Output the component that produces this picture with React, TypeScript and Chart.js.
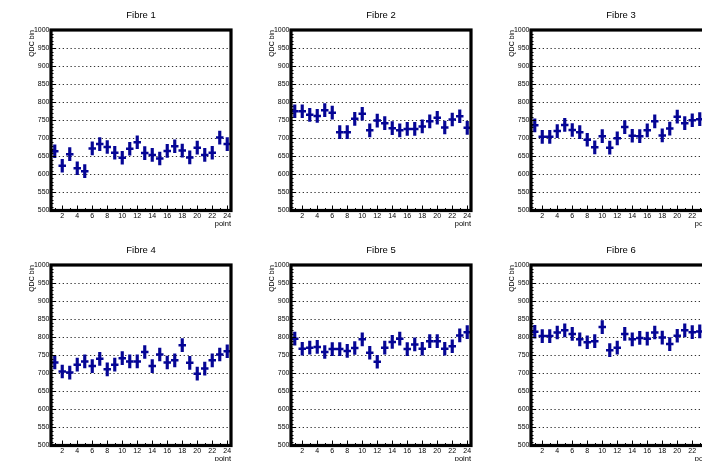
import React, { useEffect, useRef } from "react";
import { Chart, registerables } from "chart.js";

Chart.register(...registerables);

// ---------- data ----------
const points = [1, 2, 3, 4, 5, 6, 7, 8, 9, 10, 11, 12, 13, 14, 15, 16, 17, 18, 19, 20, 21, 22, 23, 24];
const xTickLabels = [2, 4, 6, 8, 10, 12, 14, 16, 18, 20, 22, 24];
const titles = ["Fibre 1", "Fibre 2", "Fibre 3", "Fibre 4", "Fibre 5", "Fibre 6"];

const fibre1 = [664, 624, 656, 617, 609, 672, 684, 676, 660, 646, 671, 689, 659, 654, 644, 665, 678, 666, 647, 674, 654, 660, 702, 684];
const fibre2 = [775, 775, 765, 762, 778, 771, 717, 717, 754, 768, 722, 749, 742, 728, 722, 726, 726, 733, 747, 757, 730, 752, 761, 729];
const fibre3 = [736, 704, 704, 720, 737, 723, 717, 696, 675, 706, 674, 700, 731, 707, 706, 722, 747, 708, 727, 760, 742, 750, 753, 752];
const fibre4 = [730, 705, 702, 724, 733, 720, 740, 711, 724, 742, 733, 733, 759, 720, 752, 730, 736, 778, 729, 699, 713, 736, 752, 761];
const fibre5 = [796, 768, 771, 773, 759, 767, 767, 762, 770, 794, 757, 732, 771, 787, 796, 767, 780, 768, 789, 789, 768, 775, 805, 814];
const fibre6 = [815, 803, 803, 813, 819, 809, 794, 786, 789, 828, 764, 771, 809, 794, 798, 796, 813, 799, 781, 804, 819, 814, 816, 815];
const series = [fibre1, fibre2, fibre3, fibre4, fibre5, fibre6];

const yError = 18; // half-height of vertical error bar (QDC bins)
const xHalfWidth = 0.5; // half-width of horizontal error bar (points)

const yMin = 500;
const yMax = 1000;
const yStep = 50;
const yMinorStep = 10;
const xMin = 0.5;
const xMax = 24.5;

// ---------- style ----------
const PAD_W = 240;
const PAD_H = 235;
const BLUE = "#050595";
const FONT = "'Liberation Sans', Arial, Helvetica, sans-serif";

Chart.defaults.font.family = FONT;

const framePlugin = {
  id: "rootFrame",
  afterDraw(chart: any) {
    const { ctx, chartArea: a, scales } = chart;
    const x = scales.x;
    const y = scales.y;
    ctx.save();
    ctx.strokeStyle = "#000";
    ctx.lineWidth = 1;
    ctx.beginPath();
    for (let v = yMin; v <= yMax; v += yMinorStep) {
      const py = Math.round(y.getPixelForValue(v)) + 0.5;
      const len = v % yStep === 0 ? 5 : 2.5;
      ctx.moveTo(a.left, py);
      ctx.lineTo(a.left + len, py);
    }
    for (const p of points) {
      const px = Math.round(x.getPixelForValue(p)) + 0.5;
      const len = p % 2 === 0 ? 5 : 2.5;
      ctx.moveTo(px, a.bottom);
      ctx.lineTo(px, a.bottom - len);
    }
    ctx.stroke();
    ctx.lineWidth = 3.2;
    ctx.strokeRect(a.left, a.top, a.right - a.left, a.bottom - a.top);
    ctx.restore();
  },
};

function Panel({ title, values, left, top }: { title: string; values: number[]; left: number; top: number }) {
  const ref = useRef<HTMLCanvasElement>(null);
  useEffect(() => {
    const pxPerUnit = (PAD_W - 51 - 9) / (xMax - xMin);
    const chart = new Chart(ref.current as HTMLCanvasElement, {
      type: "scatter",
      data: {
        datasets: [
          {
            type: "bar",
            data: values.map((v, i) => ({ x: points[i], y: [v - yError, v + yError] })),
            backgroundColor: BLUE,
            borderWidth: 0,
            barThickness: 2.5,
          } as any,
          {
            type: "scatter",
            data: values.map((v, i) => ({ x: points[i], y: v })),
            showLine: false,
            pointStyle: "line",
            pointRadius: xHalfWidth * pxPerUnit,
            pointHoverRadius: xHalfWidth * pxPerUnit,
            pointBorderColor: BLUE,
            pointBackgroundColor: BLUE,
            pointBorderWidth: 2.5,
          } as any,
        ],
      },
      options: {
        responsive: false,
        animation: false,
        devicePixelRatio: 1,
        layout: { padding: { left: 0, right: 9, top: 0, bottom: 0 } },
        plugins: {
          legend: { display: false },
          tooltip: { enabled: false },
          title: {
            display: true,
            text: title,
            fullSize: false,
            color: "#000",
            font: { family: FONT, size: 9.5, weight: "normal" },
            padding: { top: 9.3, bottom: 9.3 },
          },
        },
        scales: {
          x: {
            type: "linear",
            min: xMin,
            max: xMax,
            offset: false,
            afterBuildTicks: (s: any) => {
              s.ticks = xTickLabels.map((v) => ({ value: v }));
            },
            afterFit: (s: any) => {
              s.height = 24.5;
            },
            ticks: {
              autoSkip: false,
              maxRotation: 0,
              padding: 1,
              color: "#000",
              font: { family: FONT, size: 7 },
              callback: (v: any) => String(v),
            },
            grid: { display: false, drawTicks: false, offset: false },
            border: { display: false },
            title: {
              display: true,
              text: "point",
              align: "end",
              color: "#000",
              font: { family: FONT, size: 7.5 },
              padding: { top: 0, bottom: 6.5 },
            },
          },
          y: {
            type: "linear",
            min: yMin,
            max: yMax,
            afterFit: (s: any) => {
              s.width = 51;
            },
            ticks: {
              stepSize: yStep,
              padding: 1.5,
              color: "#000",
              font: { family: FONT, size: 7 },
              callback: (v: any) => String(v),
            },
            grid: { color: "#333", lineWidth: 1, drawTicks: false },
            border: { display: false, dash: [1.3, 2.6] },
            title: {
              display: true,
              text: "QDC bin",
              align: "end",
              color: "#000",
              font: { family: FONT, size: 7 },
              padding: { top: 27.8, bottom: 0 },
            },
          },
        },
      } as any,
      plugins: [framePlugin],
    });
    return () => chart.destroy();
  }, [title, values]);
  return (
    <canvas
      ref={ref}
      width={PAD_W}
      height={PAD_H}
      style={{ position: "absolute", left, top, width: PAD_W, height: PAD_H, display: "block" }}
    />
  );
}

export default function App() {
  return (
    <div
      style={{
        position: "fixed",
        left: 0,
        top: 0,
        width: 702,
        height: 461,
        overflow: "hidden",
        background: "#fff",
      }}
    >
      {series.map((vals, i) => (
        <Panel
          key={titles[i]}
          title={titles[i]}
          values={vals}
          left={(i % 3) * PAD_W}
          top={Math.floor(i / 3) * PAD_H}
        />
      ))}
    </div>
  );
}
